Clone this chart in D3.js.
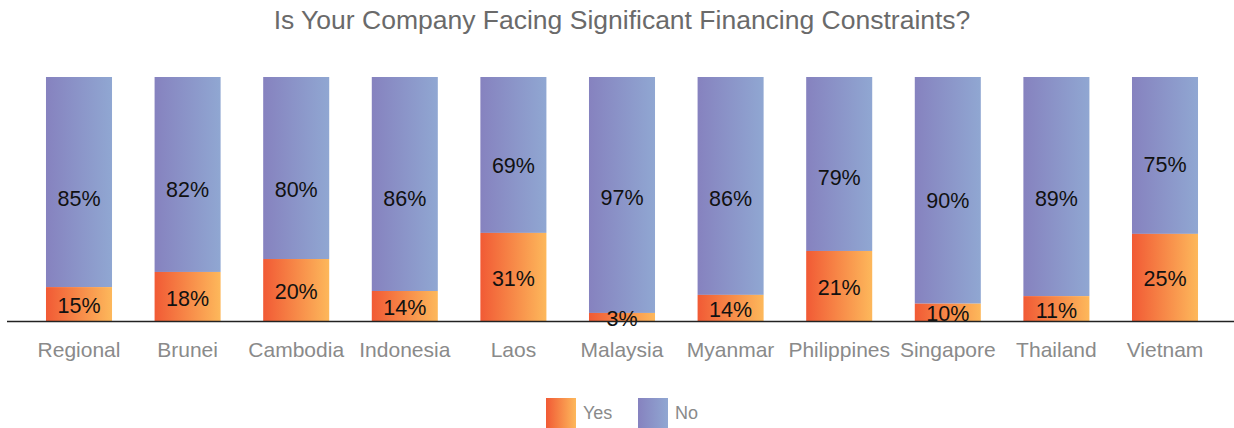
<!DOCTYPE html>
<html>
<head>
<meta charset="utf-8">
<script src="https://cdn.jsdelivr.net/npm/d3@7"></script>
<style>
  html, body { margin: 0; padding: 0; background: #fff; }
  svg { display: block; font-family: "Liberation Sans", Arial, Helvetica, sans-serif; }
</style>
</head>
<body>
<svg id="chart" width="1234" height="428"></svg>
<script>
// ---- data ----
const title = "Is Your Company Facing Significant Financing Constraints?";
const categories = ["Regional", "Brunei", "Cambodia", "Indonesia", "Laos", "Malaysia", "Myanmar", "Philippines", "Singapore", "Thailand", "Vietnam"];
// bar heights of the "Yes" segment as drawn (share of the bar, %)
const yesShare = [13.9, 20.1, 25.4, 12.3, 36.1, 3.3, 10.7, 28.7, 7.1, 10.2, 35.7];
// printed labels
const yesLabels = ["15%", "18%", "20%", "14%", "31%", "3%", "14%", "21%", "10%", "11%", "25%"];
const noLabels  = ["85%", "82%", "80%", "86%", "69%", "97%", "86%", "79%", "90%", "89%", "75%"];
// where the "No" label sits (share of the bar, %)
const noLabelAt = [50.3, 54.1, 54.0, 50.4, 63.9, 50.5, 50.3, 58.7, 49.3, 50.3, 64.3];
const seriesNames = ["Yes", "No"];

// ---- drawing ----
const svg = d3.select("#chart");
const defs = svg.append("defs");
function grad(id, c0, c1) {
  const g = defs.append("linearGradient").attr("id", id)
    .attr("x1", "0%").attr("x2", "100%").attr("y1", "0%").attr("y2", "0%");
  g.append("stop").attr("offset", "0%").attr("stop-color", c0);
  g.append("stop").attr("offset", "100%").attr("stop-color", c1);
}
grad("gYes", "#f15a35", "#fdb85b");
grad("gNo", "#8682bf", "#90a7d2");

const x = d3.scaleBand().domain(categories).range([24.7, 1219.3])
  .paddingInner(0.392).paddingOuter(0.196);
const y = d3.scaleLinear().domain([0, 100]).range([321, 77]);

svg.append("text").attr("x", 622).attr("y", 20).attr("dy", "0.35em")
  .attr("text-anchor", "middle").attr("font-size", 26.5).attr("fill", "#6a6a6a")
  .text(title);

const rows = categories.map((c, i) => ({ c, yes: yesShare[i], yl: yesLabels[i], nl: noLabels[i], nAt: noLabelAt[i] }));

const g = svg.append("g");
g.selectAll("rect.no").data(rows).join("rect").attr("class", "no")
  .attr("x", d => x(d.c)).attr("width", x.bandwidth())
  .attr("y", y(100)).attr("height", d => y(d.yes) - y(100))
  .attr("fill", "url(#gNo)");
g.selectAll("rect.yes").data(rows).join("rect").attr("class", "yes")
  .attr("x", d => x(d.c)).attr("width", x.bandwidth())
  .attr("y", d => y(d.yes)).attr("height", d => y(0) - y(d.yes))
  .attr("fill", "url(#gYes)");

// axis line
svg.append("line").attr("x1", 7).attr("x2", 1234).attr("y1", y(0) + 0.5).attr("y2", y(0) + 0.5)
  .attr("stroke", "#222").attr("stroke-width", 1.6);

// labels
g.selectAll("text.yl").data(rows).join("text").attr("class", "yl")
  .attr("x", d => x(d.c) + x.bandwidth() / 2)
  .attr("y", d => (y(d.yes) + y(0)) / 2 + 1.5).attr("dy", "0.35em")
  .attr("text-anchor", "middle").attr("font-size", 21.5).attr("fill", "#111")
  .text(d => d.yl);
g.selectAll("text.nl").data(rows).join("text").attr("class", "nl")
  .attr("x", d => x(d.c) + x.bandwidth() / 2)
  .attr("y", d => y(d.nAt)).attr("dy", "0.35em")
  .attr("text-anchor", "middle").attr("font-size", 21.5).attr("fill", "#111")
  .text(d => d.nl);

// category axis labels
const xAxis = d3.axisBottom(x).tickSize(0).tickPadding(0);
const ax = svg.append("g").attr("transform", `translate(0, 350)`).call(xAxis);
ax.select(".domain").remove();
ax.selectAll("text").attr("font-size", 21).attr("fill", "#8a8a8a")
  .attr("font-family", "\"Liberation Sans\", Arial, sans-serif").attr("dy", "0.35em").attr("y", 0);

// legend
const legend = svg.append("g");
const lg = [{ n: seriesNames[0], f: "url(#gYes)", x: 546 }, { n: seriesNames[1], f: "url(#gNo)", x: 638 }];
legend.selectAll("rect").data(lg).join("rect")
  .attr("x", d => d.x).attr("y", 398).attr("width", 30).attr("height", 30).attr("fill", d => d.f);
legend.selectAll("text").data(lg).join("text")
  .attr("x", d => d.x + 37).attr("y", 413).attr("dy", "0.35em")
  .attr("font-size", 18).attr("fill", "#8a8a8a").text(d => d.n);
</script>
</body>
</html>
